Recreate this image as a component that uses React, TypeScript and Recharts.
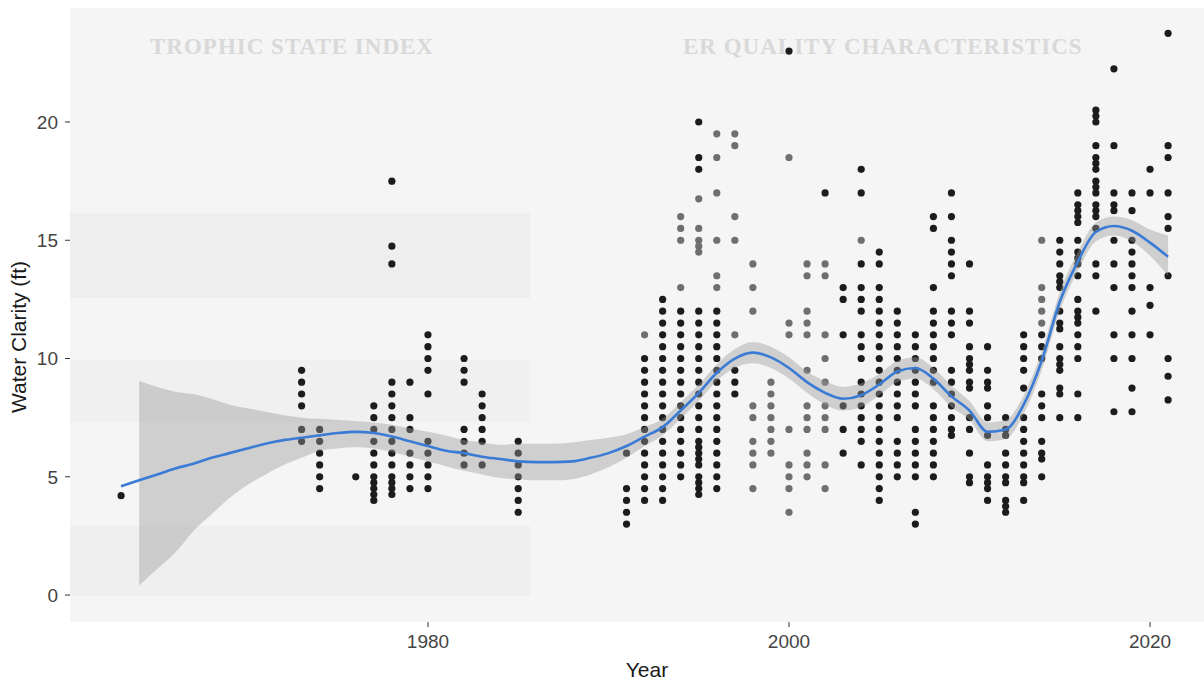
import { ComposedChart, Scatter, Area, Line, XAxis, YAxis } from 'recharts';

// loess fit, one value per year
const fitYears = [
  1963, 1964, 1965, 1966, 1967, 1968, 1969, 1970, 1971, 1972, 1973, 1974, 1975, 1976, 1977,
  1978, 1979, 1980, 1981, 1982, 1983, 1984, 1985, 1986, 1987, 1988, 1989, 1990, 1991, 1992,
  1993, 1994, 1995, 1996, 1997, 1998, 1999, 2000, 2001, 2002, 2003, 2004, 2005, 2006, 2007,
  2008, 2009, 2010, 2011, 2012, 2013, 2014, 2015, 2016, 2017, 2018, 2019, 2020, 2021,
];
const fitValues = [
  4.6, 4.85, 5.1, 5.35, 5.55, 5.8, 6.0, 6.2, 6.4, 6.55, 6.65, 6.75, 6.85, 6.9, 6.85,
  6.7, 6.5, 6.3, 6.1, 6.0, 5.85, 5.75, 5.65, 5.62, 5.62, 5.65, 5.8, 6.0, 6.3, 6.7,
  7.1, 7.8, 8.55, 9.4, 10.0, 10.25, 10.05, 9.6, 9.0, 8.55, 8.3, 8.45, 8.9, 9.45, 9.6,
  9.15, 8.4, 7.8, 6.9, 7.0, 8.05, 9.9, 12.4, 14.1, 15.35, 15.6, 15.4, 14.9, 14.3,
];
const bandLow = [
  null, 0.4, 1.1, 1.8, 2.7, 3.4, 4.1, 4.65, 5.1, 5.5, 5.8, 6.1, 6.2, 6.25, 6.2,
  6.05, 5.85, 5.65, 5.45, 5.25, 5.1, 4.95, 4.9, 4.85, 4.85, 4.9, 5.1, 5.4, 5.8, 6.3,
  6.75, 7.45, 8.2, 9.05, 9.6, 9.8, 9.6, 9.15, 8.55, 8.05, 7.8, 7.95, 8.45, 9.0, 9.15,
  8.7, 7.95, 7.4, 6.5, 6.6, 7.65, 9.5, 12.0, 13.7, 14.95, 15.2, 14.95, 14.35, 13.5,
];
const bandHigh = [
  null, 9.05, 8.8, 8.6, 8.5, 8.3, 8.05, 7.9, 7.75, 7.6, 7.5, 7.45, 7.4, 7.35, 7.3,
  7.2, 7.05, 6.9, 6.75, 6.55, 6.45, 6.35, 6.4, 6.4, 6.4, 6.45, 6.55, 6.65, 6.8, 7.1,
  7.45, 8.15, 8.9, 9.75, 10.4, 10.7, 10.5, 10.05, 9.45, 9.05, 8.8, 8.95, 9.35, 9.9, 10.05,
  9.6, 8.85, 8.2, 7.3, 7.4, 8.45, 10.3, 12.8, 14.5, 15.75, 16.0, 15.85, 15.45, 15.2,
];

// observations per year (ft). "light" = points that print grey in the scan
const darkObs: [number, number[]][] = [
  [1963, [4.2]],
  [1973, [9.5, 9, 8.5, 8, 7, 6.5]],
  [1974, [7, 6.5, 6, 5.5, 5, 4.5]],
  [1976, [5]],
  [1977, [8, 7.5, 7, 6.5, 6, 5.5, 5, 4.75, 4.5, 4.25, 4]],
  [1978, [17.5, 14.75, 14, 9, 8.5, 8, 7.5, 7, 6.5, 6, 5.5, 5, 4.75, 4.5, 4.25]],
  [1979, [9, 7.5, 7, 6, 5.5, 5, 4.5]],
  [1980, [11, 10.5, 10, 9.5, 8.5, 6.5, 6, 5.5, 5, 4.5]],
  [1982, [10, 9.5, 9, 7, 6.5, 6, 5.5]],
  [1983, [8.5, 8, 7.5, 7, 6.5, 5.5]],
  [1985, [6.5, 6, 5.5, 5, 4.5, 4, 3.5]],
  [1991, [6, 4.5, 4, 3.5, 3]],
  [1992, [10, 9.5, 9, 8.5, 8, 7.5, 7, 6.5, 6, 5.5, 5, 4.5, 4]],
  [1993, [12.5, 12, 11.5, 11, 10.5, 10, 9.5, 9, 8.5, 8, 7.5, 7, 6.5, 6, 5.5, 5, 4.5, 4]],
  [1994, [12, 11.5, 11, 10.5, 10, 9.5, 9, 8.5, 8, 7.5, 7, 6.5, 6, 5.5, 5]],
  [1995, [20, 18.5, 18, 12, 11.5, 11, 10.5, 10, 9.5, 9, 8.5, 8, 7.5, 7, 6.5, 6.25, 6, 5.75, 5.5, 5, 4.75, 4.5, 4.25]],
  [1996, [12, 11.5, 11, 10.5, 10, 9.5, 9, 8.5, 8, 7.5, 7, 6.5, 6, 5.5, 5, 4.5]],
  [1997, [9.5, 9, 8.5]],
  [2000, [23]],
  [2002, [17]],
  [2003, [13, 12.5, 11, 8, 7, 6]],
  [2004, [18, 17, 14, 13, 12.5, 12, 11, 10.5, 10, 9, 8.5, 8, 7.5, 7, 6.5, 5.5]],
  [2005, [14.5, 14, 13, 12.5, 12, 11.5, 11, 10.5, 10, 9.5, 9, 8.5, 8, 7.5, 7, 6.5, 6, 5.5, 5, 4.5, 4]],
  [2006, [12, 11.5, 11, 10.5, 10, 9.5, 9, 8.5, 8, 7.5, 6.5, 6, 5.5, 5]],
  [2007, [11, 10.5, 10, 9.5, 9, 8.5, 8, 7, 6.5, 6, 5.5, 5, 3.5, 3]],
  [2008, [16, 15.5, 13, 12, 11.5, 11, 10.5, 10, 9.5, 9, 8, 7.5, 7, 6.5, 6, 5.5, 5]],
  [2009, [17, 16, 15, 14.5, 14, 13.5, 12, 11.5, 11, 9.5, 9, 8.5, 8, 7.5, 7, 6.75]],
  [2010, [14, 12, 11.5, 10.5, 10, 9.75, 9.5, 9, 8.75, 7.5, 7, 6, 5, 4.75]],
  [2011, [10.5, 9.5, 9, 8.75, 8, 7.5, 6.75, 5.5, 5, 4.75, 4.5, 4]],
  [2012, [7.5, 7, 6.75, 6, 5.5, 5, 4.75, 4, 3.75, 3.5]],
  [2013, [11, 10.5, 10, 9.5, 8.75, 7.5, 7, 6.5, 6, 5.5, 5, 4.75, 4]],
  [2014, [11, 10.5, 10, 8.5, 8, 7.5, 6.5, 6, 5.75, 5]],
  [2015, [15, 14.5, 14, 13.5, 13.25, 13, 12, 11.5, 11.25, 10.5, 10, 9.75, 9.5, 8.75, 8.5, 7.5]],
  [2016, [17, 16.5, 16.25, 16, 15.75, 15, 14.5, 14.25, 14, 13.5, 12.5, 12, 11.75, 11.5, 11, 10.5, 10, 8.5, 7.5]],
  [2017, [20.5, 20.25, 20, 19, 18.5, 18.25, 18, 17.5, 17.25, 17, 16.5, 16.25, 16, 15.5, 14, 13.5, 12]],
  [2018, [22.25, 19, 17, 16.5, 16.25, 15, 14, 13, 11, 10, 7.75]],
  [2019, [17, 16.25, 15, 14.5, 14, 13.5, 13, 12, 11, 10, 8.75, 7.75]],
  [2020, [18, 17, 13, 12.25, 11]],
  [2021, [23.75, 19, 18.5, 17, 16, 15.5, 13.5, 10, 9.25, 8.25]],
];
const lightObs: [number, number[]][] = [
  [1992, [11]],
  [1994, [16, 15.5, 15, 13]],
  [1995, [16.75, 15.5, 15, 14.75, 14.5]],
  [1996, [19.5, 18.5, 17, 15, 13.5, 13]],
  [1997, [19.5, 19, 16, 15, 11]],
  [1998, [14, 13, 12, 8, 7.5, 6.5, 6, 5.5, 4.5]],
  [1999, [9, 8.5, 8, 7.5, 7, 6.5, 6]],
  [2000, [18.5, 11.5, 11, 7, 5.5, 5, 4.5, 3.5]],
  [2001, [14, 13.5, 12, 11.5, 11, 9.5, 8, 7.5, 7, 6, 5.5, 5]],
  [2002, [14, 13.5, 11, 10, 9, 8, 7.5, 7, 5.5, 4.5]],
  [2004, [15]],
  [2014, [15, 13, 12.5, 12, 11.5]],
];

const xTicks = [1980, 2000, 2020];
const yTicks = [0, 5, 10, 15, 20];
const xDomain = [1960.17, 2022.99];
const yDomain = [-1.14, 24.82];

const smoothData = fitYears.map((year, i) => ({
  year,
  fit: fitValues[i],
  band: bandLow[i] == null ? null : [bandLow[i], bandHigh[i]],
}));

const toPoints = (obs: [number, number[]][]) =>
  obs.flatMap(([year, values]) => values.map((clarity) => ({ year, clarity })));

const darkPoints = toPoints(darkObs);
const lightPoints = toPoints(lightObs);

const FONT = "'Liberation Sans', Arial, sans-serif";
const W = 1204;
const H = 681;
const MARGIN = { top: 8, right: 0, bottom: 0, left: 0 };

const dot = (fill: string) => (props: any) => (
  <circle cx={props.cx} cy={props.cy} r={3.6} fill={fill} />
);

function Backdrop() {
  // faded scan of a printed table sits behind the panel
  const band = (top: number, height: number, left: number, width: number, bg: string) => (
    <div style={{ position: 'absolute', top, left, width, height, background: bg }} />
  );
  const faint = { position: 'absolute' as const, fontFamily: "'Liberation Serif', serif", fontWeight: 700, color: '#d9d9d9', fontSize: 23, letterSpacing: 1 };
  return (
    <div style={{ position: 'absolute', left: 70, top: 8, width: 1134, height: 614, background: '#f5f5f5' }}>
      {band(205, 85, 0, 460, '#eeeeee')}
      {band(352, 62, 0, 460, '#f0f0f0')}
      {band(518, 70, 0, 460, '#efefef')}
      <div style={{ ...faint, left: 80, top: 26 }}>TROPHIC STATE INDEX</div>
      <div style={{ ...faint, left: 613, top: 26 }}>ER QUALITY CHARACTERISTICS</div>
    </div>
  );
}

// second chart stacked on top so the ribbon and fit line cover the points, as in ggplot
function SmoothLayer() {
  return (
    <ComposedChart width={W} height={H} data={smoothData} margin={MARGIN}>
      <XAxis type="number" dataKey="year" domain={xDomain} allowDataOverflow ticks={xTicks} height={59} tick={false} tickLine={false} axisLine={false} />
      <YAxis type="number" domain={yDomain} allowDataOverflow ticks={yTicks} width={70} tick={false} tickLine={false} axisLine={false} />
      <Area
        type="monotone"
        dataKey="band"
        stroke="none"
        fill="#9a9a9a"
        fillOpacity={0.42}
        activeDot={false}
        isAnimationActive={false}
      />
      <Line
        type="monotone"
        dataKey="fit"
        stroke="#3a7bd5"
        strokeWidth={2.6}
        dot={false}
        activeDot={false}
        isAnimationActive={false}
      />
    </ComposedChart>
  );
}

export default function App() {
  return (
    <div style={{ position: 'absolute', left: 0, top: 0, width: W, height: H, overflow: 'hidden', background: '#ffffff', fontFamily: FONT }}>
      <Backdrop />
      <div style={{ position: 'absolute', left: 0, top: 0 }}>
        <ComposedChart width={W} height={H} margin={MARGIN}>
          <XAxis
            type="number"
            dataKey="year"
            domain={xDomain}
            allowDataOverflow
            ticks={xTicks}
            height={59}
            tickSize={5}
            tickMargin={8}
            axisLine={false}
            tickLine={{ stroke: '#333333' }}
            tick={{ fill: '#444444', fontSize: 19, fontFamily: FONT }}
            label={{
              content: () => (
                <text x={647} y={677} textAnchor="middle" fill="#1a1a1a" fontSize={21} fontFamily={FONT}>
                  Year
                </text>
              ),
            }}
          />
          <YAxis
            type="number"
            domain={yDomain}
            allowDataOverflow
            ticks={yTicks}
            width={70}
            tickSize={5}
            tickMargin={7}
            axisLine={false}
            tickLine={{ stroke: '#333333' }}
            tick={{ fill: '#444444', fontSize: 19, fontFamily: FONT }}
            label={{
              content: () => (
                <text x={26} y={337} transform="rotate(-90 26 337)" textAnchor="middle" fill="#1a1a1a" fontSize={21} fontFamily={FONT}>
                  Water Clarity (ft)
                </text>
              ),
            }}
          />
          <Scatter data={lightPoints} dataKey="clarity" shape={dot('#6f6f6f')} isAnimationActive={false} />
          <Scatter data={darkPoints} dataKey="clarity" shape={dot('#1c1c1c')} isAnimationActive={false} />
        </ComposedChart>
      </div>
      <div style={{ position: 'absolute', left: 0, top: 0, pointerEvents: 'none' }}>
        <SmoothLayer />
      </div>
    </div>
  );
}
